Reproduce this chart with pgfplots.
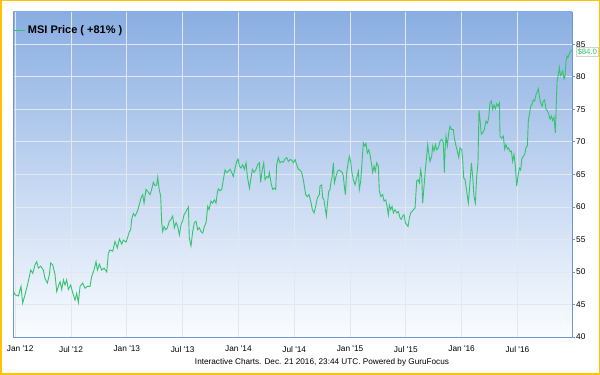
\documentclass[border=0pt]{standalone}
\usepackage{fontspec}
\setmainfont{Liberation Sans}
\usepackage{pgfplots}
\pgfplotsset{compat=1.18}
\usepackage{pgfplotstable}
\definecolor{linegreen}{RGB}{52,196,110}
\definecolor{axisblue}{RGB}{110,150,212}
\definecolor{bgtop}{RGB}{138,174,226}
\definecolor{bgbot}{RGB}{250,252,255}
\definecolor{gridc}{RGB}{226,231,240}
\definecolor{frameor}{RGB}{255,196,0}

\pgfplotstableread{
m v
-0.20 47.1
-0.02 46.5
0.34 46.3
0.62 47.8
0.80 45.2
1.05 46.5
1.30 47.9
1.52 49.3
1.66 50.3
1.88 49.8
2.13 51.1
2.31 51.6
2.49 50.6
2.74 50.9
3.02 50.3
3.20 49.0
3.46 48.3
3.67 49.6
3.81 51.4
4.03 51.1
4.28 49.6
4.46 47.0
4.64 47.8
4.82 48.5
5.00 47.3
5.18 48.8
5.35 48.0
5.53 48.8
5.71 47.3
5.96 48.0
6.18 46.8
6.43 45.7
6.61 46.7
6.79 45.3
6.97 47.8
7.25 48.3
7.51 47.5
7.76 47.8
8.04 47.8
8.22 49.3
8.47 50.3
8.69 51.6
8.83 50.3
9.05 51.2
9.30 50.3
9.55 50.6
9.84 50.0
10.01 52.9
10.19 53.4
10.48 53.2
10.73 54.7
10.98 53.7
11.20 55.1
11.45 54.3
11.63 54.9
11.91 54.6
12.06 55.2
12.27 56.2
12.42 56.5
12.52 58.1
12.70 59.0
12.88 58.6
13.13 59.3
13.35 60.4
13.53 61.4
13.71 61.9
13.85 60.6
14.06 62.7
14.24 62.4
14.49 61.9
14.67 62.7
14.85 63.8
15.03 63.3
15.21 63.4
15.32 64.6
15.46 62.9
15.64 61.6
15.75 57.6
15.86 56.2
16.00 57.0
16.18 56.5
16.36 56.8
16.57 57.8
16.75 58.1
16.93 58.6
17.11 56.8
17.29 57.6
17.47 57.0
17.65 55.7
17.83 57.3
18.01 57.9
18.15 58.8
18.37 59.3
18.62 60.0
18.72 55.2
18.90 54.0
19.08 56.2
19.26 57.6
19.44 57.8
19.62 56.5
19.80 56.8
19.98 56.2
20.16 56.0
20.34 57.0
20.52 57.6
20.70 60.1
20.84 59.6
21.05 60.9
21.23 60.6
21.41 61.1
21.59 60.6
21.73 62.2
21.84 62.8
22.02 62.5
22.20 62.7
22.38 64.2
22.56 65.7
22.74 65.3
22.92 65.5
23.10 65.8
23.28 65.3
23.45 64.7
23.63 65.9
23.81 67.0
23.96 67.4
24.10 66.3
24.28 66.0
24.46 66.5
24.64 65.8
24.82 66.8
24.96 64.7
25.18 62.9
25.32 64.2
25.50 65.8
25.68 65.3
25.89 65.8
26.07 66.5
26.25 66.8
26.39 63.8
26.57 65.8
26.72 66.8
26.86 64.2
27.04 64.7
27.22 64.5
27.33 65.3
27.51 63.7
27.68 62.7
27.86 62.9
28.01 62.7
28.11 66.5
28.29 67.6
28.47 66.8
28.65 67.0
28.83 66.9
29.01 67.4
29.19 67.6
29.37 67.0
29.55 67.3
29.73 67.2
29.91 66.8
30.09 67.3
30.27 66.5
30.44 65.8
30.62 65.7
30.80 65.3
30.98 64.2
31.09 63.2
31.23 61.9
31.41 61.6
31.59 61.9
31.77 60.9
31.95 59.6
32.13 59.1
32.31 60.1
32.49 61.4
32.70 61.9
32.77 63.2
32.95 63.4
33.06 61.4
33.20 61.1
33.35 59.6
33.46 58.6
33.56 60.3
33.71 62.4
33.85 62.7
33.96 64.0
34.06 64.5
34.21 66.8
34.32 63.7
34.46 64.5
34.64 65.5
34.82 65.7
35.00 65.5
35.18 65.3
35.28 64.7
35.39 63.2
35.50 61.9
35.64 65.3
35.82 67.0
35.93 67.8
36.07 67.0
36.18 65.5
36.36 64.2
36.54 63.4
36.72 64.5
36.90 65.5
37.00 62.7
37.15 64.0
37.29 66.8
37.43 69.9
37.58 69.4
37.72 69.8
37.86 68.3
38.01 68.8
38.15 68.1
38.29 66.8
38.44 65.3
38.58 66.3
38.72 65.5
38.87 66.8
39.05 66.3
39.15 62.4
39.33 61.6
39.51 61.9
39.66 60.9
39.84 61.1
39.98 60.1
40.12 58.8
40.23 60.3
40.37 59.6
40.52 60.1
40.66 59.1
40.84 59.6
41.02 59.1
41.20 59.3
41.38 58.3
41.52 58.1
41.66 58.6
41.81 58.8
41.95 57.6
42.09 57.3
42.24 57.0
42.38 58.3
42.52 59.1
42.67 59.3
42.81 59.6
42.99 59.8
43.17 64.0
43.31 64.2
43.46 63.7
43.60 65.7
43.71 64.7
43.81 60.6
43.96 63.2
44.10 65.7
44.24 67.8
44.35 69.6
44.46 68.3
44.60 67.0
44.78 67.8
44.89 69.4
45.03 68.6
45.18 69.6
45.32 68.8
45.50 69.1
45.68 70.1
45.86 70.4
46.04 69.9
46.14 65.3
46.22 68.8
46.32 70.9
46.47 69.4
46.61 71.4
46.75 72.4
46.93 71.9
47.11 71.9
47.22 70.6
47.36 69.6
47.54 68.6
47.69 67.6
47.83 69.1
48.01 68.8
48.12 67.3
48.22 64.5
48.37 64.2
48.55 62.4
48.72 60.6
48.90 63.7
49.05 66.8
49.19 64.7
49.33 61.6
49.48 60.6
49.62 64.7
49.76 66.8
49.87 74.9
49.98 73.4
50.12 71.2
50.27 71.4
50.44 71.9
50.62 73.2
50.77 72.9
50.91 73.7
51.05 76.0
51.20 76.3
51.34 75.0
51.48 75.7
51.63 75.1
51.77 75.9
51.91 75.5
52.06 76.0
52.13 70.9
52.31 70.6
52.49 70.9
52.63 68.9
52.77 69.6
52.92 68.9
53.06 69.1
53.20 68.5
53.35 68.6
53.49 67.0
53.63 68.1
53.78 66.3
53.92 63.2
54.06 64.7
54.21 66.0
54.35 65.7
54.49 67.5
54.64 67.8
54.78 68.1
54.92 69.1
55.07 69.4
55.18 73.5
55.28 74.1
55.43 75.5
55.57 75.8
55.71 76.5
55.86 76.3
56.00 77.3
56.14 77.8
56.25 78.2
56.36 77.0
56.50 76.0
56.65 75.5
56.79 76.3
56.93 76.5
57.08 75.0
57.22 74.8
57.36 74.3
57.51 73.5
57.65 74.0
57.79 73.3
57.94 73.8
58.08 71.4
58.15 74.6
58.26 79.2
58.40 80.4
58.51 81.5
58.62 80.2
58.72 80.4
58.87 80.9
59.01 79.7
59.12 80.2
59.23 82.5
59.33 83.2
59.44 83.0
59.55 83.5
59.66 83.8
59.76 84.0
59.84 84.1
}\msidata

\begin{document}
\begin{tikzpicture}[x=1pt,y=1pt]
\useasboundingbox (0,0) rectangle (600,375);
\fill[white] (0,0) rectangle (600,375);
\draw[frameor, line width=1.5pt] (0.75,0.75) rectangle (599.25,374.25);
\begin{axis}[
  at={(13pt,38pt)}, anchor=south west,
  width=559pt, height=325pt, scale only axis,
  xmin=-0.24, xmax=59.87, ymin=40, ymax=90,
  axis x line*=bottom, axis y line*=right,
  axis line style={axisblue, line width=1pt},
  xtick={0,6,...,54},
  xticklabels={\hspace*{10pt}Jan \textquotesingle12, Jul \textquotesingle12, Jan \textquotesingle13, Jul \textquotesingle13, Jan \textquotesingle14, Jul \textquotesingle14, Jan \textquotesingle15, Jul \textquotesingle15, Jan \textquotesingle16, Jul \textquotesingle16},
  ytick={40,45,...,85},
  grid=major,
  major grid style={gridc, line width=1pt},
  xtick style={draw=none},
  ytick style={axisblue, line width=1pt},
  tick align=outside,
  major tick length=3pt,
  tick label style={font=\fontsize{8.3}{9}\selectfont},
  xticklabel style={inner sep=0pt, yshift=-6pt},
  yticklabel style={inner sep=1pt},
  /pgf/number format/assume math mode=true,
  axis background/.style={top color=bgtop, bottom color=bgbot},
  clip=false,
  legend style={at={(axis description cs:0,1)}, anchor=north west, draw=none, fill=none,
    font=\bfseries\fontsize{11}{13}\selectfont, inner sep=0pt, outer sep=0pt, xshift=1pt, yshift=-12pt},
  legend image code/.code={\draw[#1] (0pt,0pt) -- (11pt,0pt);},
]
\draw[axisblue, line width=1pt] (rel axis cs:0,0) -- (rel axis cs:0,1);
\addplot[linegreen, line width=0.9pt] table[x=m,y=v]{\msidata};
\addlegendentry{MSI Price ( +81\% )}
\node[anchor=west, draw=gray!35, fill=white, text=linegreen, font=\fontsize{7.8}{9}\selectfont, inner sep=1.3pt, xshift=4pt, yshift=-1.5pt] at (axis cs:59.87,84.1) {\$84.0};
\end{axis}
\node[font=\fontsize{8.2}{10}\selectfont] at (322,12.3) {Interactive Charts. Dec. 21 2016, 23:44 UTC. Powered by GuruFocus};
\end{tikzpicture}
\end{document}
